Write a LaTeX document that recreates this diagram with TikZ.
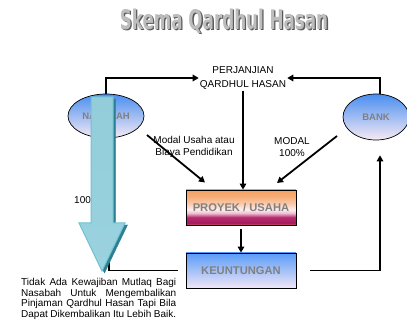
\documentclass[tikz,border=0pt]{standalone}
\usepackage{fontspec}
\setmainfont{Liberation Sans}
\newfontfamily\headfont{DejaVu Sans}
\usetikzlibrary{arrows.meta,shapes.geometric}

\definecolor{lbl}{HTML}{808080}
\definecolor{ovtop}{HTML}{4A8EF0}
\definecolor{ovbot}{HTML}{F6EAF4}
\definecolor{ktop}{HTML}{5A9CF8}
\definecolor{kmid}{HTML}{A4C4F2}
\definecolor{kbot}{HTML}{F0E6F6}
\definecolor{arrtop}{HTML}{93CDDA}
\definecolor{arrmid}{HTML}{4AA7C3}
\definecolor{arrbot}{HTML}{9AD3DF}
\definecolor{arredge}{HTML}{72C1D0}
\definecolor{arrside}{HTML}{2B7F92}
\definecolor{ttlfill}{HTML}{BDBDBD}
\definecolor{ttldark}{HTML}{5A5A5A}

% vertical fill of the project box: 25bp = bottom edge, 75bp = top edge
\pgfdeclareverticalshading{proyekfill}{100bp}{%
  color(0bp)=(rgb,255:red,200;green,80;blue,100);
  color(25bp)=(rgb,255:red,200;green,80;blue,100);
  color(28bp)=(rgb,255:red,165;green,28;blue,96);
  color(36bp)=(rgb,255:red,180;green,44;blue,110);
  color(42bp)=(rgb,255:red,240;green,190;blue,210);
  color(47bp)=(rgb,255:red,253;green,238;blue,240);
  color(56bp)=(rgb,255:red,250;green,200;blue,168);
  color(66bp)=(rgb,255:red,246;green,172;blue,118);
  color(75bp)=(rgb,255:red,244;green,160;blue,96);
  color(100bp)=(rgb,255:red,244;green,160;blue,96)}

\begin{document}
\begin{tikzpicture}[x=1pt,y=-1pt,
  conn/.style={line width=1.8pt,-{Triangle[length=6pt,width=6.5pt]}},
  link/.style={line width=1.8pt},
  txt/.style={font=\fontsize{10}{12}\selectfont,align=center,inner sep=1pt},
  oval/.style={ellipse,draw=black,line width=0.7pt,top color=ovtop,bottom color=ovbot,
    inner sep=0pt,text=lbl,font=\fontsize{9.5}{11}\selectfont\bfseries},
  stagebox/.style={rectangle,draw=black,line width=0.8pt,minimum width=110pt,minimum height=35pt,
    inner sep=0pt,text=lbl,font=\fontsize{11.2}{13}\selectfont\bfseries},
  headtext/.style={font=\headfont\fontsize{27}{30}\selectfont\bfseries,xscale=0.62,inner sep=0pt}]

\useasboundingbox (0,0) rectangle (407,331);
\fill[white] (0,0) rectangle (407,331);

% title with a raised look: dark copy behind, light face in front
\node[headtext,text=ttldark] (ttllo) at (225.3,22.3) {Skema Qardhul Hasan};
\node[headtext,text=ttlfill] (ttl) at (224,21) {Skema Qardhul Hasan};

% parties and stages
\node[oval,minimum width=76pt,minimum height=44pt] (nas) at (106,116) {NASABAH};
\node[oval,minimum width=66pt,minimum height=46pt] (bank) at (376,117) {BANK};
\node[txt,font=\fontsize{10}{14}\selectfont] (perj) at (243,78) {PERJANJIAN\\QARDHUL HASAN};
\node[stagebox,shading=proyekfill] (proyek) at (241,207.5) {PROYEK / USAHA};
\node[stagebox,top color=ktop,middle color=kmid,bottom color=kbot] (keun) at (241,270.5) {KEUNTUNGAN};

% labels on the funding lines
\node[txt] (modal1) at (194,147) {Modal Usaha atau\\Biaya Pendidikan};
\node[txt] (modal2) at (292,147) {MODAL\\100\%};

% loose ends of the diagonal and return lines
\coordinate (d1s) at (147,135);
\coordinate (d1e) at (205,182.5);
\coordinate (d2s) at (337,136);
\coordinate (d2e) at (277,183);
\coordinate (back) at (109,250);

% connectors
\draw[conn] (nas.north) |- (perj.west);
\draw[conn] ([xshift=4pt]bank.north) |- (perj.east);
\draw[conn] (perj.south) -- (perj.south |- proyek.north);
\draw[conn] (d1s) -- (d1e);
\draw[conn] (d2s) -- (d2e);
\draw[conn,shorten <=4pt] (proyek.south) -- (keun.north);
\draw[conn,shorten <=14pt,shorten >=15pt] (keun.east) -| ([xshift=4pt]bank.south);
\draw[link,shorten <=8pt] (keun.west) -| (back);

% note below
\node[anchor=north west,inner sep=0pt,text width=155pt,align=justify,
  font=\fontsize{10}{10.5}\selectfont] (note) at (21,278.5)
  {\parfillskip=0pt Tidak Ada Kewajiban Mutlaq Bagi\linebreak Nasabah Untuk Mengembalikan\linebreak Pinjaman Qardhul Hasan Tapi Bila\linebreak Dapat Dikembalikan Itu Lebih Baik.};

\node[txt,anchor=west,inner sep=0pt] (pct) at (74,200) {100\%};

% large downward arrow
\draw[fill=arrside,draw=arrside] (93.5,99) -- (115.5,99) -- (115.5,225) -- (127.5,225)
  -- (104.5,273) -- (81.5,225) -- (93.5,225) -- cycle;
\shade[top color=arrtop,middle color=arrmid,bottom color=arrbot,draw=arredge,line width=1pt]
  (91,97) -- (113,97) -- (113,223) -- (125,223) -- (102,271) -- (79,223) -- (91,223) -- cycle;
\end{tikzpicture}
\end{document}
